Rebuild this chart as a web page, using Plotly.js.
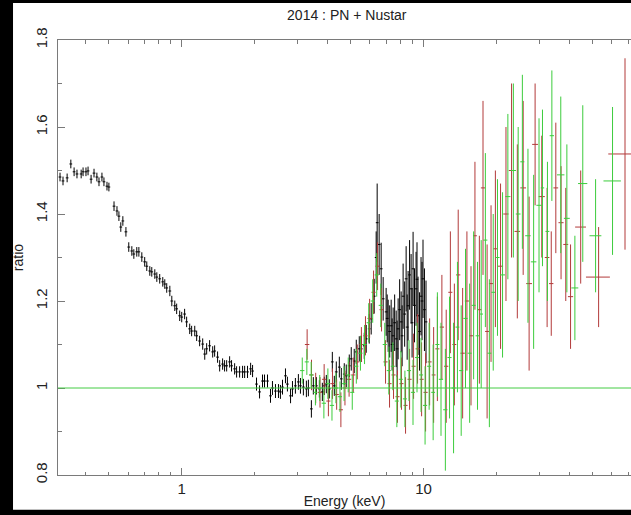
<!DOCTYPE html>
<html><head><meta charset="utf-8">
<script src="https://cdn.plot.ly/plotly-3.0.1.min.js"></script>
<style>html,body{margin:0;padding:0;background:#fff;}#chart{width:631px;height:515px;}</style>
</head><body><div id="chart"></div>
<script>
// PN (black) : energy keV, ratio, 1-sigma error
const pnEnergy = [0.314,0.323,0.336,0.348,0.359,0.369,0.384,0.391,0.402,0.410,0.422,0.434,0.446,0.455,0.468,0.477,0.491,0.500,
0.525,0.540,0.550,0.560,0.571,0.588,0.604,0.622,0.634,0.652,0.665,0.684,0.703,0.717,0.738,0.752,0.774,0.789,0.811,0.835,0.851,0.867,0.893,0.910,0.936,0.953,0.981,
1.000,1.028,1.048,1.079,1.099,1.132,1.153,1.186,1.221,1.245,1.268,1.304,1.343,1.368,1.407,1.435,1.476,1.504,1.534,1.578,1.607,1.655,1.686,1.735,1.785,1.820,1.871,1.927,1.963,
2.038,2.098,2.158,2.199,2.263,2.328,2.372,2.441,2.512,2.559,2.610,2.685,2.735,2.818,2.870,2.951,3.036,3.096,3.184,3.276,3.339,3.436,3.500,3.603,3.707,3.814,3.887,3.961,
4.075,4.194,4.274,4.355,4.483,4.568,4.699,4.788,4.928,5.021,5.166,5.268,5.420,5.523,5.683,5.791,5.959,6.072,6.247,6.366,6.427,6.549,6.676,6.804,
7.000,7.07,7.137,7.24,7.343,7.41,7.482,7.59,7.700,7.77,7.847,7.96,8.074,8.15,8.227,8.35,8.467,8.55,8.627,8.75,8.877,8.96,9.046,9.17,9.306,9.39,9.483,9.62,9.758,9.85,9.943,10.08,10.23];
const pnRatio = [1.485,1.476,1.483,1.515,1.497,1.492,1.492,1.497,1.497,1.499,1.480,1.494,1.485,1.474,1.485,1.474,1.464,1.462,
1.418,1.407,1.395,1.370,1.384,1.359,1.324,1.315,1.308,1.313,1.313,1.301,1.290,1.280,1.269,1.267,1.262,1.255,1.251,1.244,1.239,1.230,1.223,1.200,1.189,1.182,1.166,
1.163,1.170,1.152,1.136,1.131,1.131,1.120,1.108,1.101,1.078,1.090,1.097,1.083,1.085,1.071,1.051,1.055,1.051,1.051,1.060,1.051,1.044,1.037,1.037,1.037,1.037,1.037,1.044,1.039,
1.009,0.991,1.016,1.016,1.016,0.982,1.000,0.993,0.993,0.991,1.002,1.028,1.009,0.982,0.998,1.005,1.014,1.005,1.002,0.998,1.000,0.952,1.005,1.005,0.998,0.991,1.005,1.009,
0.998,1.060,1.005,1.037,1.048,1.021,1.032,1.028,1.051,1.067,1.062,1.083,1.090,1.090,1.097,1.113,1.136,1.159,1.211,1.300,1.380,1.330,1.274,1.205,
1.175,1.160,1.143,1.130,1.143,1.100,1.120,1.150,1.113,1.090,1.136,1.180,1.152,1.120,1.211,1.170,1.251,1.140,1.189,1.260,1.228,1.150,1.274,1.190,1.228,1.250,1.166,1.130,1.211,1.200,1.251,1.180,1.152];
const pnErr = [0.01,0.01,0.01,0.01,0.01,0.01,0.01,0.01,0.01,0.01,0.01,0.01,0.01,0.01,0.01,0.01,0.01,0.01,
0.011,0.011,0.011,0.011,0.011,0.011,0.011,0.011,0.011,0.011,0.011,0.011,0.011,0.011,0.011,0.011,0.011,0.011,0.011,0.011,0.011,0.011,0.012,0.012,0.012,0.012,0.012,
0.012,0.012,0.012,0.012,0.012,0.012,0.012,0.012,0.013,0.013,0.013,0.013,0.013,0.013,0.013,0.013,0.013,0.013,0.013,0.013,0.013,0.013,0.013,0.013,0.014,0.014,0.014,0.014,0.014,
0.015,0.015,0.015,0.015,0.015,0.016,0.016,0.016,0.016,0.016,0.017,0.017,0.017,0.017,0.018,0.018,0.018,0.018,0.019,0.019,0.019,0.02,0.02,0.02,0.02,0.021,0.021,0.021,
0.022,0.023,0.023,0.024,0.024,0.025,0.025,0.026,0.026,0.027,0.028,0.028,0.029,0.03,0.03,0.032,0.034,0.036,0.04,0.06,0.09,0.07,0.06,0.05,
0.055,0.055,0.06,0.06,0.06,0.06,0.065,0.065,0.065,0.065,0.07,0.07,0.07,0.07,0.075,0.075,0.075,0.075,0.08,0.08,0.08,0.08,0.085,0.085,0.085,0.085,0.09,0.09,0.09,0.09,0.09,0.095,0.095];

// NuSTAR FPMA (red)
const fpmaEnergy = [3.30,3.44,3.58,3.73,3.88,4.04,4.20,4.37,4.55,4.73,4.92,5.12,5.32,5.53,5.75,5.98,6.21,6.45,6.70,6.96,
7.23,7.51,7.80,8.10,8.42,8.75,9.09,9.44,9.81,10.19,10.59,11.0,11.4,11.9,12.4,12.9,13.4,13.9,14.5,15.1,
15.7,16.3,17.0,17.6,18.3,19.0,19.8,20.8,21.9,23.1,24.4,25.8,27.3,28.9,30.8,32.4,33.7,35.2,37.0,38.7,40.5,44.6,52.9,68.0];
const fpmaRatio = [1.10,1.03,1.00,0.99,1.02,0.97,1.01,0.985,0.95,1.00,1.02,1.03,1.06,1.10,1.12,1.16,1.22,1.28,1.18,1.06,
1.01,1.03,0.98,1.01,0.96,1.02,1.05,1.09,1.02,0.99,1.06,1.03,1.09,1.14,1.05,1.22,1.10,1.26,1.08,1.20,
1.12,1.35,1.18,1.46,1.13,1.24,1.32,1.28,1.40,1.50,1.36,1.46,1.24,1.56,1.44,1.30,1.24,1.46,1.38,1.33,1.21,1.37,1.255,1.538];
const fpmaErr = [0.035,0.035,0.035,0.035,0.035,0.035,0.035,0.035,0.04,0.04,0.04,0.04,0.04,0.04,0.045,0.045,0.05,0.055,0.05,0.05,
0.055,0.055,0.06,0.06,0.065,0.07,0.075,0.08,0.085,0.09,0.1,0.11,0.12,0.12,0.13,0.14,0.14,0.15,0.15,0.16,
0.16,0.17,0.17,0.2,0.2,0.18,0.18,0.19,0.2,0.2,0.2,0.2,0.2,0.14,0.14,0.16,0.12,0.15,0.13,0.13,0.12,0.13,0.115,0.22];
const fpmaHalfBin = [0.07,0.07,0.07,0.075,0.08,0.08,0.085,0.09,0.09,0.095,0.1,0.1,0.105,0.11,0.115,0.12,0.12,0.125,0.13,0.135,
0.14,0.145,0.15,0.155,0.16,0.17,0.175,0.18,0.19,0.2,0.2,0.2,0.22,0.24,0.25,0.25,0.25,0.28,0.3,0.3,
0.3,0.3,0.33,0.35,0.35,0.37,0.4,0.5,0.55,0.6,0.65,0.7,0.75,0.8,0.9,0.7,0.7,0.8,0.9,0.9,1.0,2.3,6.0,10.0];

// NuSTAR FPMB (green)
const fpmbEnergy = [3.15,3.29,3.43,3.57,3.72,3.87,4.02,4.18,4.34,4.51,4.69,4.88,5.07,5.27,5.48,5.70,5.93,6.16,6.40,6.65,
6.91,7.18,7.46,7.75,8.05,8.37,8.70,9.04,9.39,9.76,10.14,10.54,10.95,11.4,11.8,12.3,12.8,13.3,13.8,14.3,
14.9,15.5,16.1,16.7,17.3,18.0,18.7,19.4,20.2,21.2,22.3,23.5,24.6,25.6,27.0,28.5,30.0,31.0,32.5,33.9,36.9,39.1,42.2,45.5,51.4,60.4];
const fpmbRatio = [1.04,1.06,1.03,0.99,1.00,0.965,1.01,0.96,1.00,0.98,1.01,1.03,0.99,1.05,1.08,1.10,1.15,1.20,1.26,1.19,
1.10,1.04,1.05,0.97,1.02,0.975,1.04,0.99,1.07,1.03,0.96,1.05,0.99,1.10,1.02,0.95,1.07,1.00,1.14,1.04,
1.16,1.08,1.19,1.12,1.17,1.34,1.08,1.22,1.30,1.26,1.44,1.50,1.40,1.52,1.35,1.29,1.42,1.46,1.36,1.58,1.49,1.39,1.23,1.47,1.35,1.476];
const fpmbErr = [0.03,0.03,0.03,0.03,0.03,0.035,0.035,0.035,0.035,0.035,0.04,0.04,0.04,0.04,0.04,0.045,0.045,0.05,0.05,0.05,
0.05,0.055,0.055,0.06,0.065,0.065,0.07,0.075,0.08,0.085,0.09,0.1,0.11,0.12,0.13,0.14,0.14,0.15,0.15,0.15,
0.16,0.16,0.17,0.17,0.17,0.2,0.17,0.18,0.18,0.19,0.19,0.2,0.2,0.2,0.2,0.2,0.2,0.18,0.16,0.15,0.18,0.17,0.12,0.18,0.13,0.17];
const fpmbHalfBin = [0.065,0.065,0.07,0.07,0.075,0.08,0.08,0.085,0.09,0.09,0.095,0.1,0.1,0.105,0.11,0.115,0.12,0.12,0.125,0.13,
0.135,0.14,0.145,0.15,0.155,0.16,0.17,0.175,0.18,0.19,0.2,0.2,0.2,0.22,0.24,0.25,0.25,0.25,0.25,0.28,
0.3,0.3,0.3,0.3,0.3,0.35,0.35,0.35,0.4,0.5,0.55,0.6,0.55,0.5,0.7,0.75,0.75,0.5,0.6,0.7,1.3,1.1,1.4,2.0,2.9,5.0];

const modelLevel = 1.0;
const xMajor = [1, 10];
const xMinor = [0.4,0.5,0.6,0.7,0.8,0.9,2,3,4,5,6,7,8,9,20,30,40,50,60,70];
const yMajor = [0.8,1.0,1.2,1.4,1.6,1.8];
const yMajorText = ['0.8','1','1.2','1.4','1.6','1.8'];
const yMinor = [0.9,1.1,1.3,1.5,1.7];

function dataTrace(x, y, ey, ex, color, pct) {
  return {
    type: 'scatter', mode: 'markers', x: x, y: y,
    marker: {size: 1, color: 'rgba(0,0,0,0)'},
    error_y: {type: 'data', array: ey, visible: true, color: color, thickness: 1, width: 0},
    error_x: pct ? {type: 'percent', value: pct, visible: true, color: color, thickness: 1, width: 0}
                 : {type: 'data', array: ex, visible: true, color: color, thickness: 1, width: 0},
    hoverinfo: 'skip'
  };
}

const traces = [
  dataTrace(pnEnergy, pnRatio, pnErr, null, '#000000', 1.3),
  dataTrace(fpmaEnergy, fpmaRatio, fpmaErr, fpmaHalfBin, '#b23a3a', null),
  dataTrace(fpmbEnergy, fpmbRatio, fpmbErr, fpmbHalfBin, '#3ccc3c', null)
];

const axisCol = '#7a7a7a';
const layout = {
  width: 631, height: 515,
  margin: {l: 58, r: 0, t: 40, b: 40},
  paper_bgcolor: '#ffffff', plot_bgcolor: '#ffffff',
  showlegend: false,
  font: {family: 'Liberation Sans, Arial, sans-serif', size: 14, color: '#222'},
  title: {text: '2014 : PN + Nustar', x: 0.504, xref: 'paper', xanchor: 'center', y: 0.971, yref: 'container', yanchor: 'middle',
          font: {size: 14, color: '#222'}},
  xaxis: {
    type: 'log', range: [Math.log10(0.308), Math.log10(72)],
    showgrid: false, zeroline: false,
    showline: true, linecolor: axisCol, linewidth: 1, mirror: 'ticks',
    ticks: 'inside', ticklen: 7, tickcolor: axisCol, tickwidth: 1,
    tickmode: 'array', tickvals: xMajor, ticktext: ['1','10'],
    minor: {tickmode: 'array', tickvals: xMinor, ticks: 'inside', ticklen: 3.5, tickcolor: axisCol, tickwidth: 1, showgrid: false},
    tickfont: {size: 15, color: '#222'},
    title: {text: 'Energy (keV)', font: {size: 14, color: '#222'}, standoff: 0}
  },
  yaxis: {
    range: [0.8, 1.8],
    showgrid: false, zeroline: false,
    showline: true, linecolor: axisCol, linewidth: 1, mirror: false,
    ticks: 'inside', ticklen: 7, tickcolor: axisCol, tickwidth: 1,
    tickmode: 'array', tickvals: yMajor, ticktext: yMajorText,
    minor: {tickmode: 'array', tickvals: yMinor, ticks: 'inside', ticklen: 3.5, tickcolor: axisCol, tickwidth: 1, showgrid: false},
    tickangle: -90, ticklabelstandoff: 4,
    tickfont: {size: 15, color: '#222'},
    title: {text: 'ratio', font: {size: 14, color: '#222'}, standoff: 6}
  },
  shapes: [
    {type: 'line', xref: 'paper', x0: 0, x1: 1, yref: 'y', y0: modelLevel, y1: modelLevel, line: {color: '#44cc44', width: 1}, layer: 'above'},
    {type: 'rect', xref: 'paper', yref: 'paper', x0: -0.102, x1: -0.0785, y0: -0.093, y1: 1.093, fillcolor: '#000', line: {width: 0}, layer: 'below'},
    {type: 'rect', xref: 'paper', yref: 'paper', x0: -0.102, x1: 1.01, y0: 1.085, y1: 1.093, fillcolor: '#000', line: {width: 0}, layer: 'below'},
    {type: 'rect', xref: 'paper', yref: 'paper', x0: -0.102, x1: 1.01, y0: -0.093, y1: -0.080, fillcolor: '#000', line: {width: 0}, layer: 'below'}
  ]
};

Plotly.newPlot('chart', traces, layout, {displayModeBar: false, staticPlot: true});
</script>
</body></html>
